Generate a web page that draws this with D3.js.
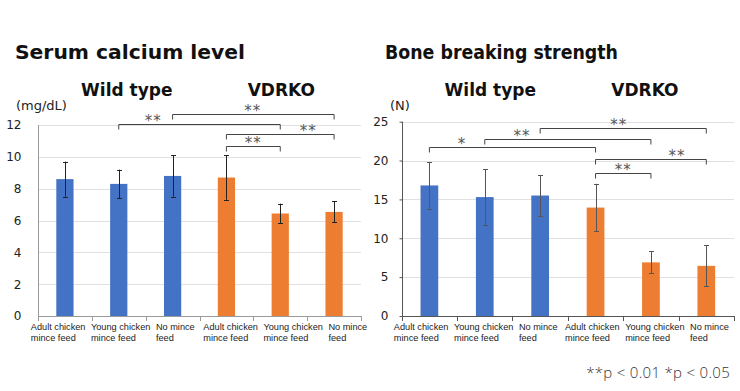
<!DOCTYPE html>
<html>
<head>
<meta charset="utf-8">
<script src="https://cdn.jsdelivr.net/npm/d3@7/dist/d3.min.js"></script>
<style>
  html, body { margin: 0; padding: 0; background: #fff; }
  svg { display: block; }
</style>
</head>
<body>
<svg id="chart" width="740" height="391"></svg>
<script>
// ---------- data ----------
const categories = [
  ["Adult chicken", "mince feed"],
  ["Young chicken", "mince feed"],
  ["No mince", "feed"],
  ["Adult chicken", "mince feed"],
  ["Young chicken", "mince feed"],
  ["No mince", "feed"]
];
const groupNames = ["Wild type", "VDRKO"];
const groupOf = [0, 0, 0, 1, 1, 1];

const calciumMeans = [8.6, 8.3, 8.8, 8.7, 6.44, 6.54];
const calciumErrors = [1.1, 0.9, 1.3, 1.4, 0.62, 0.66];
const calciumTicks = [0, 2, 4, 6, 8, 10, 12];
const calciumBrackets = [
  { from: 1, to: 4, level: 12.06, label: "**", at: 1.64 },
  { from: 2, to: 5, level: 12.69, label: "**", at: 3.49 },
  { from: 3, to: 5, level: 11.45, label: "**", at: 4.52 },
  { from: 3, to: 4, level: 10.66, label: "**", at: 3.5 }
];

const strengthMeans = [16.8, 15.3, 15.5, 13.95, 6.9, 6.45];
const strengthErrors = [3.0, 3.6, 2.6, 3.05, 1.4, 2.65];
const strengthTicks = [0, 5, 10, 15, 20, 25];
const strengthBrackets = [
  { from: 0, to: 3, level: 21.7, label: "*", at: 0.59 },
  { from: 1, to: 4, level: 22.74, label: "**", at: 1.67 },
  { from: 2, to: 5, level: 24.23, label: "**", at: 3.42 },
  { from: 3, to: 5, level: 20.16, label: "**", at: 4.47 },
  { from: 3, to: 4, level: 18.36, label: "**", at: 3.5 }
];

const groupColors = ["#4472C4", "#ED7D31"];

// ---------- drawing ----------
const svg = d3.select("#chart");

function drawPanel(opt) {
  const g = svg.append("g");
  const idx = d3.range(categories.length);
  const x = d3.scaleBand().domain(idx).range([opt.x0, opt.x1]).padding(0);
  const y = d3.scaleLinear().domain([0, opt.max]).range([opt.y0, opt.y1]);
  const bw = x.bandwidth();
  const cx = i => x(i) + bw / 2;
  const pos = f => opt.x0 + (f + 0.5) * bw;

  // title
  g.append("text")
    .attr("x", opt.titleX).attr("y", 59)
    .attr("font-family", "DejaVu Sans, sans-serif")
    .attr("font-weight", "bold").attr("font-size", 19)
    .attr("textLength", opt.titleLen).attr("lengthAdjust", "spacingAndGlyphs")
    .attr("fill", "#111").text(opt.title);

  // group labels
  groupNames.forEach((name, gi) => {
    const members = idx.filter(i => groupOf[i] === gi);
    const c = (cx(members[0]) + cx(members[members.length - 1])) / 2;
    g.append("text")
      .attr("x", c + opt.groupShift[gi]).attr("y", 96)
      .attr("text-anchor", "middle")
      .attr("font-family", "DejaVu Sans, sans-serif")
      .attr("font-weight", "bold").attr("font-size", 17)
      .attr("fill", "#111").text(name);
  });

  // unit label
  g.append("text")
    .attr("x", opt.unitX).attr("y", 110)
    .attr("font-family", "DejaVu Sans, sans-serif")
    .attr("font-size", 13).attr("fill", "#222").text(opt.unit);

  // gridlines
  g.append("g").selectAll("line").data(opt.ticks.filter(t => t > 0)).join("line")
    .attr("x1", opt.x0).attr("x2", opt.x1)
    .attr("y1", d => Math.round(y(d)) + 0.5).attr("y2", d => Math.round(y(d)) + 0.5)
    .attr("stroke", "#e0e0e0").attr("stroke-width", 1);

  // y axis
  const yAxis = d3.axisLeft(y).tickValues(opt.ticks).tickSize(opt.yTickSize).tickPadding(opt.yPad);
  const ya = g.append("g").attr("transform", `translate(${Math.round(opt.x0) + 0.5},0)`).call(yAxis);
  ya.select(".domain").attr("stroke", opt.axisColor).attr("d", `M0,${y(0)}V${y(opt.max)}`);
  ya.selectAll(".tick line").attr("stroke", opt.axisColor);
  ya.selectAll(".tick text")
    .attr("font-family", "DejaVu Sans, sans-serif")
    .attr("font-size", 12).attr("fill", "#222");

  // x axis with ticks at category boundaries
  const xa = g.append("g");
  xa.append("line")
    .attr("x1", opt.x0).attr("x2", opt.x1)
    .attr("y1", Math.round(y(0)) + 0.5).attr("y2", Math.round(y(0)) + 0.5)
    .attr("stroke", opt.axisColor);
  xa.selectAll("line.tk").data(d3.range(categories.length + 1)).join("line")
    .attr("class", "tk")
    .attr("x1", d => Math.round(opt.x0 + d * bw) + 0.5)
    .attr("x2", d => Math.round(opt.x0 + d * bw) + 0.5)
    .attr("y1", y(0)).attr("y2", y(0) + 5)
    .attr("stroke", opt.axisColor);

  // category labels: per group, left-aligned two-line blocks flowing with a gap,
  // the run centred under its group
  const gap = 5.5;
  groupNames.forEach((name, gi) => {
    const members = idx.filter(i => groupOf[i] === gi);
    const gc = (cx(members[0]) + cx(members[members.length - 1])) / 2;
    const blocks = members.map(i => {
      const t = g.append("text")
        .attr("font-family", "Liberation Sans, Arial, sans-serif")
        .attr("font-size", 9.2).attr("fill", "#222");
      categories[i].forEach((ln, k) => {
        t.append("tspan").attr("x", 0).attr("y", 330 + k * 10.5).text(ln);
      });
      const w = d3.max(t.selectAll("tspan").nodes(), n => n.getComputedTextLength());
      return { t, w };
    });
    const run = d3.sum(blocks, b => b.w) + gap * (blocks.length - 1);
    let left = gc - run / 2 + opt.labelShift[gi];
    blocks.forEach(b => {
      b.t.attr("transform", `translate(${left},0)`);
      left += b.w + gap;
    });
  });

  // bars
  const barW = bw * 0.32;
  g.append("g").selectAll("rect").data(opt.means).join("rect")
    .attr("x", (d, i) => cx(i) - barW / 2)
    .attr("width", barW)
    .attr("y", d => y(d))
    .attr("height", d => y(0) - y(d))
    .attr("fill", (d, i) => groupColors[groupOf[i]]);

  // error bars
  const eb = g.append("g").attr("stroke", opt.errColor).attr("stroke-width", 1);
  opt.means.forEach((m, i) => {
    const e = opt.errors[i];
    const xc = Math.round(cx(i)) + 0.5;
    eb.append("line").attr("x1", xc).attr("x2", xc).attr("y1", y(m + e)).attr("y2", y(m - e));
    [m + e, m - e].forEach(v => {
      eb.append("line").attr("x1", xc - 2.5).attr("x2", xc + 2.5)
        .attr("y1", Math.round(y(v)) + 0.5).attr("y2", Math.round(y(v)) + 0.5);
    });
  });

  // significance brackets
  const br = g.append("g");
  opt.brackets.forEach(b => {
    const yy = Math.round(y(b.level)) + 0.5;
    br.append("path")
      .attr("d", `M${cx(b.from)},${yy + 5}V${yy}H${cx(b.to)}V${yy + 5}`)
      .attr("fill", "none").attr("stroke", "#444").attr("stroke-width", 1);
    br.append("text")
      .attr("x", pos(b.at)).attr("y", yy + 1.5)
      .attr("text-anchor", "middle")
      .attr("font-family", "DejaVu Sans, sans-serif")
      .attr("font-size", 15).attr("letter-spacing", 1)
      .attr("fill", "#555")
      .text(b.label);
  });
}

drawPanel({
  title: "Serum calcium level", titleX: 15, titleLen: 230,
  unit: "(mg/dL)", unitX: 16,
  x0: 38, x1: 361, y0: 316, y1: 125, max: 12, labelShift: [-6, 5],
  ticks: calciumTicks, means: calciumMeans, errors: calciumErrors,
  brackets: calciumBrackets, axisColor: "#9a9a9a", yTickSize: 0, yPad: 17,
  errColor: "#222", groupShift: [8, 1]
});

drawPanel({
  title: "Bone breaking strength", titleX: 385, titleLen: 233,
  unit: "(N)", unitX: 390,
  x0: 401.7, x1: 734, y0: 316, y1: 121.7, max: 25, labelShift: [-9, -4],
  ticks: strengthTicks, means: strengthMeans, errors: strengthErrors,
  brackets: strengthBrackets, axisColor: "#555", yTickSize: 3, yPad: 11,
  errColor: "#555", groupShift: [5.5, -6]
});

// footnote
svg.append("text")
  .attr("x", 730).attr("y", 378)
  .attr("text-anchor", "end")
  .attr("font-family", "Open Sans, Noto Sans, sans-serif")
  .attr("font-weight", 300)
  .attr("font-size", 15).attr("letter-spacing", 0.3)
  .attr("fill", "#333")
  .text("**p < 0.01 *p < 0.05");
</script>
</body>
</html>
